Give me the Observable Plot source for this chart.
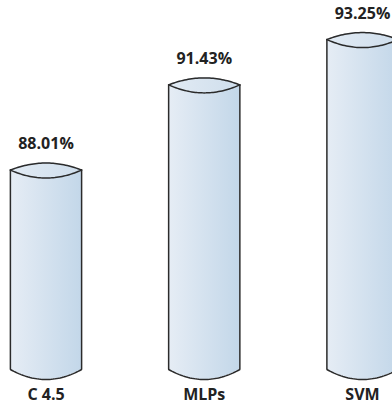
<!DOCTYPE html>
<html>
<head>
<meta charset="utf-8">
<script src="https://cdn.jsdelivr.net/npm/d3@7"></script>
<script src="https://cdn.jsdelivr.net/npm/@observablehq/plot@0.6"></script>
<style>
  html, body { margin: 0; padding: 0; background: #fff; overflow: hidden; }
  svg { display: block; }
</style>
</head>
<body>
<div id="chart"></div>
<script>
// ---- data ----
const categories = ["C 4.5", "MLPs", "SVM"];
const values = [88.01, 91.43, 93.25];
const valueLabels = ["88.01%", "91.43%", "93.25%"];
const baseline = 80;

// ---- geometry helpers (derived from data + scale) ----
const pxPerUnit = 24.9;           // y scale resolution
const halfWidth = 0.225;          // bar half-width in x units
const topUp = 7 / pxPerUnit;      // upper arc of the top lens
const topDown = 8 / pxPerUnit;    // lower arc of the top lens
const bottomDrop = 10 / pxPerUnit;// bottom arc
const N = 40;

const body = [], lens = [];
categories.forEach((c, i) => {
  for (let k = 0; k <= N; k++) {
    const t = -1 + 2 * k / N;
    const b = 1 - t * t;
    const x = i + t * halfWidth;
    body.push({cat: c, x, y1: baseline - bottomDrop * b, y2: values[i] + topUp * b});
    lens.push({cat: c, x, lo: values[i] - topDown * b, hi: values[i] + topUp * b, bot: baseline - bottomDrop * b});
  }
});
const sides = [];
categories.forEach((c, i) => {
  sides.push({x: i - halfWidth, y1: baseline, y2: values[i]});
  sides.push({x: i + halfWidth, y1: baseline, y2: values[i]});
});
const idx = categories.map((c, i) => i);

const stroke = "#2b2b2b";
const sw = 1.5;
const font = "'Open Sans', 'Noto Sans', sans-serif";

const chart = Plot.plot({
  width: 392,
  height: 406,
  margin: 0,
  x: {domain: [0, 2], range: [45.5, 362], axis: null},
  y: {domain: [baseline, baseline + 369 / pxPerUnit], range: [369, 0], axis: null},
  style: {fontFamily: font, background: "#fff"},
  marks: [
    Plot.areaY(body, {x: "x", y1: "y1", y2: "y2", z: "cat", fill: "url(#bodyGrad)", curve: "linear"}),
    Plot.areaY(lens, {x: "x", y1: "lo", y2: "hi", z: "cat", fill: "url(#topGrad)"}),
    Plot.ruleX(sides, {x: "x", y1: "y1", y2: "y2", stroke, strokeWidth: sw}),
    Plot.line(lens, {x: "x", y: "hi", z: "cat", stroke, strokeWidth: sw}),
    Plot.line(lens, {x: "x", y: "lo", z: "cat", stroke, strokeWidth: sw}),
    Plot.line(lens, {x: "x", y: "bot", z: "cat", stroke, strokeWidth: sw}),
    Plot.text(idx, {
      x: d => d, y: d => values[d], text: d => valueLabels[d],
      dy: -26, fontSize: 16, fontWeight: "bold", fill: "#222", lineAnchor: "middle"
    }),
    Plot.text(idx, {
      x: d => d, y: baseline, text: d => categories[d],
      dy: 25, fontSize: 16, fontWeight: "bold", fill: "#222", lineAnchor: "middle"
    })
  ]
});

const ns = "http://www.w3.org/2000/svg";
const defs = document.createElementNS(ns, "defs");
defs.innerHTML = `
  <linearGradient id="bodyGrad" x1="0" y1="0" x2="1" y2="0">
    <stop offset="0" stop-color="#e6edf5"/>
    <stop offset="1" stop-color="#c3d7e9"/>
  </linearGradient>
  <linearGradient id="topGrad" x1="0" y1="0" x2="1" y2="0">
    <stop offset="0" stop-color="#e2ebf4"/>
    <stop offset="1" stop-color="#cfdeec"/>
  </linearGradient>`;
chart.insertBefore(defs, chart.firstChild);
document.getElementById("chart").appendChild(chart);
</script>
</body>
</html>
